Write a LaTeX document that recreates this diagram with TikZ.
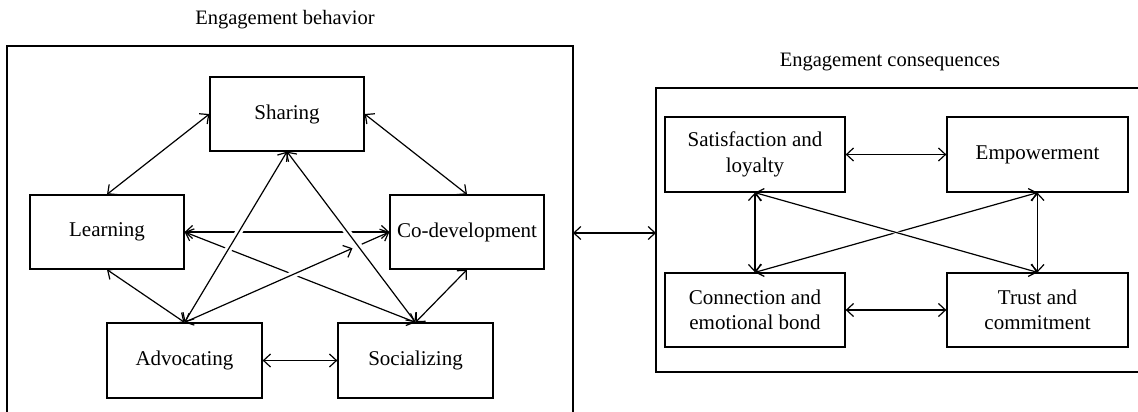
\documentclass[tikz,border=0pt]{standalone}
\usepackage{fontspec}
\setmainfont{Liberation Serif}
\usetikzlibrary{arrows.meta,calc}
\begin{document}
\begin{tikzpicture}[x=1pt,y=-1pt,
  box/.style={draw,line width=1.3pt,minimum width=154pt,minimum height=74pt,inner sep=0pt,align=center,font=\fontsize{21}{25.5}\selectfont},
  wbox/.style={box,minimum width=180pt,minimum height=75pt},
  frame/.style={draw,line width=1.3pt},
  conn/.style={line width=1.2pt,{Straight Barb[length=7pt,width=13pt]}-{Straight Barb[length=7pt,width=13pt]}},
  endarr/.style={line width=1.2pt,-{Straight Barb[length=7pt,width=13pt]}},
  over/.style={preaction={draw=white,line width=#1,-,shorten <=28pt,shorten >=28pt}},
  titletext/.style={font=\fontsize{20.5}{24}\selectfont}]
\useasboundingbox (0,0) rectangle (1138,412);
\fill[white] (0,0) rectangle (1138,412);

% frames
\draw[frame] (7,412) -- (7,46) -- (573,46) -- (573,412);
\draw[frame] (1139,88) -- (656,88) -- (656,372) -- (1139,372);
\node[titletext] (tl) at (285,20) {Engagement behavior};
\node[titletext] (tr) at (890,62) {Engagement consequences};
\coordinate (lb) at (573,233);
\coordinate (rb) at (656,233);
\draw[conn] (lb) -- (rb);

% left nodes
\node[box] (sha) at (287,114) {Sharing};
\node[box] (lea) at (107,232) {Learning};
\node[box] (cod) at (467,232) {Co-development};
\node[box,minimum width=155pt,minimum height=75pt] (adv) at (184.5,360.5) {Advocating};
\node[box,minimum width=155pt,minimum height=75pt] (soc) at (415.5,360.5) {Socializing};

\draw[conn] (lea.north) -- (sha.west);
\draw[conn] (sha.east) -- (cod.north);
\draw[conn] (lea.south) -- (adv.north);
\draw[conn] (cod.south) -- (soc.north);
\draw[conn] (adv.east) -- (soc.west);
\draw[conn] (lea.east) -- (cod.west);
\draw[conn] (lea.east) -- (soc.north);
\draw[conn,over=7pt] (adv.north) -- ($(adv.north)!0.82!(cod.west)$);
\draw[endarr] ($(adv.north)!0.865!(cod.west)$) -- (cod.west);
\draw[conn,over=7pt] (sha.south) -- (adv.north);
\draw[conn,over=7pt] (sha.south) -- (soc.north);

% right nodes
\node[wbox] (sat) at (755,154.5) {Satisfaction and\\loyalty};
\node[wbox,minimum width=181pt] (emp) at (1037.5,154.5) {Empowerment};
\node[wbox,minimum height=74pt] (con) at (755,310) {Connection and\\emotional bond};
\node[wbox,minimum width=181pt,minimum height=74pt] (tru) at (1037.5,310) {Trust and\\commitment};

\draw[conn] (sat.east) -- (emp.west);
\draw[conn] (con.east) -- (tru.west);
\draw[conn] (sat.south) -- (con.north);
\draw[conn] (emp.south) -- (tru.north);
\draw[conn] (con.north) -- (emp.south);
\draw[conn,over=3pt] (sat.south) -- (tru.north);
\end{tikzpicture}
\end{document}
